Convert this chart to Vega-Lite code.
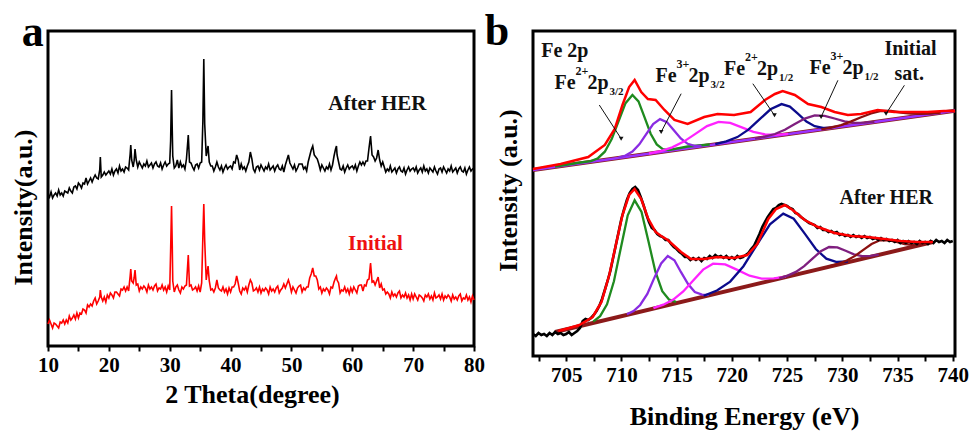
{
  "$schema": "https://vega.github.io/schema/vega-lite/v6.json",
  "padding": {"left": 8, "top": 8, "right": 0, "bottom": 0},
  "spacing": -3,
  "resolve": {"scale": {"color": "independent"}},
  "config": {
    "font": "Liberation Serif",
    "view": {"stroke": "black", "strokeWidth": 3},
    "axis": {"labelFont": "Liberation Serif", "labelFontWeight": "bold", "labelFontSize": 21, "labelColor": "black", "titleFont": "Liberation Serif", "titleFontWeight": "bold", "titleFontSize": 26, "titleColor": "black", "grid": false, "domain": false, "tickColor": "black", "tickWidth": 2, "tickSize": 5, "labelFlush": false, "labelOverlap": false},
    "text": {"font": "Liberation Serif", "fontWeight": "bold"}
  },
  "datasets": {
    "xrd": [
      {"x":10,"a":152,"i":22},{"x":10.25,"a":149,"i":26},{"x":10.5,"a":154,"i":22},{"x":10.75,"a":148,"i":18},
      {"x":11,"a":151,"i":23},{"x":11.25,"a":153,"i":22},{"x":11.5,"a":150,"i":20},{"x":11.75,"a":156,"i":18},
      {"x":12,"a":151,"i":24},{"x":12.25,"a":153,"i":23},{"x":12.5,"a":150,"i":26},{"x":12.75,"a":155,"i":22},
      {"x":13,"a":154,"i":26},{"x":13.25,"a":153,"i":23},{"x":13.5,"a":158,"i":30},{"x":13.75,"a":155,"i":26},
      {"x":14,"a":153,"i":28},{"x":14.25,"a":159,"i":31},{"x":14.5,"a":160,"i":27},{"x":14.75,"a":157,"i":33},
      {"x":15,"a":163,"i":28},{"x":15.25,"a":161,"i":33},{"x":15.5,"a":158,"i":32},{"x":15.75,"a":163,"i":37},
      {"x":16,"a":162,"i":36},{"x":16.25,"a":168,"i":33},{"x":16.5,"a":162,"i":41},{"x":16.75,"a":165,"i":39},
      {"x":17,"a":168,"i":42},{"x":17.25,"a":164,"i":40},{"x":17.5,"a":168,"i":45},{"x":17.75,"a":171,"i":48},
      {"x":18,"a":168,"i":42},{"x":18.25,"a":167,"i":45},{"x":18.5,"a":176,"i":49},{"x":18.6,"a":189,"i":56},{"x":18.75,"a":169,"i":49},
      {"x":19,"a":171,"i":45},{"x":19.25,"a":174,"i":49},{"x":19.5,"a":171,"i":44},{"x":19.75,"a":173,"i":51},
      {"x":20,"a":175,"i":48},{"x":20.25,"a":172,"i":53},{"x":20.5,"a":177,"i":51},{"x":20.75,"a":171,"i":48},
      {"x":21,"a":175,"i":54},{"x":21.25,"a":177,"i":54},{"x":21.5,"a":173,"i":52},{"x":21.75,"a":180,"i":50},
      {"x":22,"a":175,"i":57},{"x":22.25,"a":177,"i":56},{"x":22.5,"a":174,"i":59},{"x":22.75,"a":179,"i":55},
      {"x":23,"a":178,"i":59},{"x":23.25,"a":176,"i":55},{"x":23.5,"a":192,"i":70},{"x":23.6,"a":201,"i":77},{"x":23.75,"a":186,"i":65},
      {"x":24,"a":179,"i":63},{"x":24.15,"a":185,"i":68},{"x":24.3,"a":197,"i":76},{"x":24.5,"a":186,"i":61},{"x":24.75,"a":179,"i":62},
      {"x":25,"a":184,"i":55},{"x":25.25,"a":181,"i":59},{"x":25.5,"a":178,"i":57},{"x":25.75,"a":182,"i":60},
      {"x":26,"a":180,"i":58},{"x":26.25,"a":185,"i":54},{"x":26.5,"a":179,"i":61},{"x":26.75,"a":181,"i":57},
      {"x":27,"a":183,"i":59},{"x":27.25,"a":178,"i":56},{"x":27.5,"a":182,"i":60},{"x":27.75,"a":184,"i":62},
      {"x":28,"a":180,"i":55},{"x":28.25,"a":179,"i":58},{"x":28.5,"a":183,"i":57},{"x":28.75,"a":177,"i":61},
      {"x":29,"a":181,"i":56},{"x":29.25,"a":184,"i":59},{"x":29.5,"a":180,"i":54},{"x":29.75,"a":182,"i":60},
      {"x":30,"a":183,"i":56},{"x":30.15,"a":205,"i":95},{"x":30.3,"a":256,"i":140},{"x":30.42,"a":215,"i":100},{"x":30.5,"a":190,"i":65},{"x":30.75,"a":178,"i":54},
      {"x":31,"a":180,"i":59},{"x":31.25,"a":186,"i":61},{"x":31.5,"a":178,"i":56},{"x":31.75,"a":184,"i":53},
      {"x":32,"a":179,"i":59},{"x":32.25,"a":181,"i":57},{"x":32.5,"a":177,"i":60},{"x":32.75,"a":187,"i":61},
      {"x":33.05,"a":211,"i":91},{"x":33.25,"a":184,"i":60},{"x":33.5,"a":183,"i":61},{"x":33.75,"a":179,"i":56},
      {"x":34,"a":176,"i":57},{"x":34.25,"a":181,"i":59},{"x":34.5,"a":182,"i":55},{"x":34.75,"a":178,"i":60},
      {"x":35,"a":183,"i":54},{"x":35.25,"a":184,"i":63},{"x":35.45,"a":225,"i":110},{"x":35.6,"a":287,"i":142},{"x":35.75,"a":222,"i":105},
      {"x":36,"a":190,"i":66},{"x":36.3,"a":200,"i":80},{"x":36.5,"a":184,"i":65},{"x":36.75,"a":180,"i":56},
      {"x":37,"a":180,"i":57},{"x":37.25,"a":175,"i":54},{"x":37.5,"a":179,"i":58},{"x":37.75,"a":184,"i":66},
      {"x":38,"a":179,"i":58},{"x":38.25,"a":176,"i":56},{"x":38.5,"a":180,"i":55},{"x":38.75,"a":174,"i":59},
      {"x":39,"a":178,"i":54},{"x":39.25,"a":181,"i":57},{"x":39.5,"a":177,"i":52},{"x":39.75,"a":179,"i":58},
      {"x":40,"a":180,"i":54},{"x":40.25,"a":177,"i":59},{"x":40.5,"a":184,"i":59},{"x":40.75,"a":183,"i":62},
      {"x":41,"a":191,"i":70},{"x":41.25,"a":186,"i":63},{"x":41.5,"a":176,"i":55},{"x":41.75,"a":182,"i":52},
      {"x":42,"a":177,"i":58},{"x":42.25,"a":179,"i":56},{"x":42.5,"a":175,"i":59},{"x":42.75,"a":180,"i":54},
      {"x":43,"a":184,"i":61},{"x":43.25,"a":194,"i":66},{"x":43.5,"a":187,"i":63},{"x":43.75,"a":177,"i":55},
      {"x":44,"a":174,"i":56},{"x":44.25,"a":179,"i":58},{"x":44.5,"a":180,"i":54},{"x":44.75,"a":176,"i":59},
      {"x":45,"a":181,"i":53},{"x":45.25,"a":178,"i":57},{"x":45.5,"a":175,"i":55},{"x":45.75,"a":179,"i":58},
      {"x":46,"a":177,"i":56},{"x":46.25,"a":182,"i":52},{"x":46.5,"a":176,"i":59},{"x":46.75,"a":178,"i":55},
      {"x":47,"a":180,"i":57},{"x":47.25,"a":175,"i":54},{"x":47.5,"a":179,"i":58},{"x":47.75,"a":181,"i":60},
      {"x":48,"a":177,"i":53},{"x":48.25,"a":176,"i":56},{"x":48.5,"a":180,"i":58},{"x":48.75,"a":174,"i":62},
      {"x":49,"a":181,"i":58},{"x":49.25,"a":186,"i":62},{"x":49.5,"a":191,"i":66},{"x":49.75,"a":183,"i":61},
      {"x":50,"a":180,"i":54},{"x":50.25,"a":177,"i":59},{"x":50.5,"a":181,"i":56},{"x":50.75,"a":175,"i":53},
      {"x":51,"a":178,"i":58},{"x":51.25,"a":182,"i":60},{"x":51.5,"a":182,"i":61},{"x":51.75,"a":182,"i":54},
      {"x":52,"a":177,"i":58},{"x":52.25,"a":179,"i":56},{"x":52.5,"a":175,"i":59},{"x":52.75,"a":184,"i":59},
      {"x":53,"a":190,"i":68},{"x":53.25,"a":196,"i":72},{"x":53.5,"a":200,"i":78},{"x":53.75,"a":191,"i":70},
      {"x":54,"a":189,"i":70},{"x":54.25,"a":187,"i":66},{"x":54.5,"a":182,"i":57},{"x":54.75,"a":176,"i":59},
      {"x":55,"a":181,"i":53},{"x":55.25,"a":178,"i":57},{"x":55.5,"a":175,"i":55},{"x":55.75,"a":179,"i":58},
      {"x":56,"a":177,"i":56},{"x":56.25,"a":182,"i":52},{"x":56.5,"a":176,"i":59},{"x":56.75,"a":181,"i":58},
      {"x":57,"a":190,"i":64},{"x":57.25,"a":197,"i":68},{"x":57.4,"a":200,"i":70},{"x":57.5,"a":191,"i":66},{"x":57.75,"a":184,"i":63},
      {"x":58,"a":177,"i":53},{"x":58.25,"a":176,"i":56},{"x":58.5,"a":180,"i":55},{"x":58.75,"a":174,"i":59},
      {"x":59,"a":178,"i":54},{"x":59.25,"a":181,"i":57},{"x":59.5,"a":177,"i":52},{"x":59.75,"a":179,"i":58},
      {"x":60,"a":180,"i":54},{"x":60.25,"a":177,"i":59},{"x":60.5,"a":181,"i":56},{"x":60.75,"a":175,"i":53},
      {"x":61,"a":180,"i":60},{"x":61.25,"a":184,"i":61},{"x":61.5,"a":181,"i":61},{"x":61.75,"a":184,"i":55},
      {"x":62,"a":181,"i":61},{"x":62.25,"a":185,"i":60},{"x":62.5,"a":185,"i":66},{"x":62.75,"a":198,"i":67},
      {"x":63,"a":210,"i":83},{"x":63.25,"a":191,"i":64},{"x":63.5,"a":189,"i":65},{"x":63.75,"a":185,"i":61},
      {"x":64,"a":188,"i":65},{"x":64.25,"a":196,"i":69},{"x":64.5,"a":186,"i":58},{"x":64.75,"a":180,"i":62},
      {"x":65,"a":184,"i":56},{"x":65.25,"a":179,"i":57},{"x":65.5,"a":174,"i":52},{"x":65.75,"a":177,"i":54},
      {"x":66,"a":175,"i":52},{"x":66.25,"a":180,"i":48},{"x":66.5,"a":174,"i":54},{"x":66.75,"a":176,"i":50},
      {"x":67,"a":178,"i":52},{"x":67.25,"a":173,"i":49},{"x":67.5,"a":177,"i":53},{"x":67.75,"a":179,"i":55},
      {"x":68,"a":175,"i":48},{"x":68.25,"a":174,"i":51},{"x":68.5,"a":178,"i":49},{"x":68.75,"a":172,"i":53},
      {"x":69,"a":176,"i":48},{"x":69.25,"a":179,"i":51},{"x":69.5,"a":175,"i":46},{"x":69.75,"a":177,"i":52},
      {"x":70,"a":178,"i":47},{"x":70.25,"a":175,"i":52},{"x":70.5,"a":179,"i":49},{"x":70.75,"a":173,"i":46},
      {"x":71,"a":176,"i":51},{"x":71.25,"a":178,"i":50},{"x":71.5,"a":174,"i":48},{"x":71.75,"a":180,"i":45},
      {"x":72,"a":175,"i":51},{"x":72.25,"a":177,"i":49},{"x":72.5,"a":173,"i":52},{"x":72.75,"a":178,"i":47},
      {"x":73,"a":176,"i":50},{"x":73.25,"a":174,"i":46},{"x":73.5,"a":179,"i":53},{"x":73.75,"a":175,"i":48},
      {"x":74,"a":172,"i":49},{"x":74.25,"a":177,"i":51},{"x":74.5,"a":178,"i":47},{"x":74.75,"a":174,"i":52},
      {"x":75,"a":179,"i":46},{"x":75.25,"a":176,"i":50},{"x":75.5,"a":173,"i":48},{"x":75.75,"a":177,"i":51},
      {"x":76,"a":175,"i":49},{"x":76.25,"a":180,"i":45},{"x":76.5,"a":174,"i":51},{"x":76.75,"a":176,"i":47},
      {"x":77,"a":178,"i":49},{"x":77.25,"a":173,"i":46},{"x":77.5,"a":177,"i":50},{"x":77.75,"a":179,"i":52},
      {"x":78,"a":175,"i":45},{"x":78.25,"a":174,"i":48},{"x":78.5,"a":178,"i":47},{"x":78.75,"a":172,"i":51},
      {"x":79,"a":176,"i":46},{"x":79.25,"a":179,"i":49},{"x":79.5,"a":175,"i":44},{"x":79.75,"a":177,"i":50},
      {"x":80,"a":178,"i":46}
    ],
    "xrdText": [
      {"x":56.06,"y":235.7,"t":"After HER"},
      {"x":59.3,"y":95.7,"t":"Initial"}
    ],
    "panelA": [{"x":5.68,"y":299.7,"t":"a"}],
    "panelB": [{"E":697.63,"v":310.7,"t":"b"}],
    "bg": [
      {"s":"init","E":702,"v":186},{"s":"init","E":740.2,"v":245.3},
      {"s":"after","E":704,"v":24},{"s":"after","E":738.2,"v":114}
    ],
    "comp": [
      {"s":"init","c":"g","E":704,"v":189.5},{"s":"init","c":"g","E":706,"v":193},{"s":"init","c":"g","E":707.25,"v":194.9},{"s":"init","c":"g","E":707.875,"v":197.8},{"s":"init","c":"g","E":708.5,"v":204.3},{"s":"init","c":"g","E":709.125,"v":216.9},{"s":"init","c":"g","E":709.75,"v":235},{"s":"init","c":"g","E":710.375,"v":252.8},{"s":"init","c":"g","E":711,"v":261},{"s":"init","c":"g","E":711.55,"v":254.6},{"s":"init","c":"g","E":712.1,"v":238.7},{"s":"init","c":"g","E":712.65,"v":222.3},{"s":"init","c":"g","E":713.2,"v":211.6},{"s":"init","c":"g","E":713.75,"v":206.9},{"s":"init","c":"g","E":714.3,"v":205.8},{"s":"init","c":"g","E":716,"v":209.5},{"s":"init","c":"g","E":718,"v":211.5},
      {"s":"init","c":"v","E":709.75,"v":198.4},{"s":"init","c":"v","E":710.375,"v":200.5},{"s":"init","c":"v","E":711,"v":204.4},{"s":"init","c":"v","E":711.625,"v":211.7},{"s":"init","c":"v","E":712.25,"v":221.9},{"s":"init","c":"v","E":712.875,"v":232},{"s":"init","c":"v","E":713.5,"v":236.9},{"s":"init","c":"v","E":714.125,"v":233.9},{"s":"init","c":"v","E":714.75,"v":225.8},{"s":"init","c":"v","E":715.375,"v":217.5},{"s":"init","c":"v","E":716,"v":212.2},{"s":"init","c":"v","E":716.625,"v":210.2},{"s":"init","c":"v","E":717.25,"v":210},
      {"s":"init","c":"m","E":712.5,"v":202.5},{"s":"init","c":"m","E":713.55,"v":204.9},{"s":"init","c":"m","E":714.6,"v":208.6},{"s":"init","c":"m","E":715.65,"v":214.4},{"s":"init","c":"m","E":716.7,"v":222.1},{"s":"init","c":"m","E":717.75,"v":229.9},{"s":"init","c":"m","E":718.8,"v":234.1},{"s":"init","c":"m","E":719.85,"v":233.1},{"s":"init","c":"m","E":720.9,"v":228.7},{"s":"init","c":"m","E":721.95,"v":224.2},{"s":"init","c":"m","E":723,"v":221.6},{"s":"init","c":"m","E":724.05,"v":221.2},{"s":"init","c":"m","E":725.1,"v":222.1},
      {"s":"init","c":"n","E":718.5,"v":211.9},{"s":"init","c":"n","E":719.5,"v":214.6},{"s":"init","c":"n","E":720.5,"v":218.9},{"s":"init","c":"n","E":721.5,"v":226.4},{"s":"init","c":"n","E":722.5,"v":236.6},{"s":"init","c":"n","E":723.5,"v":246.7},{"s":"init","c":"n","E":724.5,"v":251.9},{"s":"init","c":"n","E":725.25,"v":249.4},{"s":"init","c":"n","E":726,"v":242.1},{"s":"init","c":"n","E":726.75,"v":234.5},{"s":"init","c":"n","E":727.5,"v":229.8},{"s":"init","c":"n","E":728.25,"v":228.2},{"s":"init","c":"n","E":729,"v":228.2},
      {"s":"init","c":"p","E":722.1,"v":217.4},{"s":"init","c":"p","E":723,"v":219.3},{"s":"init","c":"p","E":723.9,"v":222},{"s":"init","c":"p","E":724.8,"v":226.3},{"s":"init","c":"p","E":725.7,"v":231.9},{"s":"init","c":"p","E":726.6,"v":237.4},{"s":"init","c":"p","E":727.5,"v":240.6},{"s":"init","c":"p","E":728.4,"v":240.2},{"s":"init","c":"p","E":729.3,"v":237.5},{"s":"init","c":"p","E":730.2,"v":234.7},{"s":"init","c":"p","E":731.1,"v":233.2},{"s":"init","c":"p","E":732,"v":233.3},{"s":"init","c":"p","E":732.9,"v":234.2},
      {"s":"init","c":"s","E":728.1,"v":226.6},{"s":"init","c":"s","E":729,"v":228.4},{"s":"init","c":"s","E":729.9,"v":230.9},{"s":"init","c":"s","E":730.8,"v":234.6},{"s":"init","c":"s","E":731.7,"v":238.8},{"s":"init","c":"s","E":732.6,"v":242.5},{"s":"init","c":"s","E":733.5,"v":245},{"s":"init","c":"s","E":734.4,"v":245},{"s":"init","c":"s","E":735.3,"v":243.5},{"s":"init","c":"s","E":736.2,"v":242.5},{"s":"init","c":"s","E":737.1,"v":242.1},{"s":"init","c":"s","E":738,"v":242.4},{"s":"init","c":"s","E":738.9,"v":243.4},
      {"s":"after","c":"g","E":707.45,"v":34.4},{"s":"after","c":"g","E":708.075,"v":39.8},{"s":"after","c":"g","E":708.7,"v":51.7},{"s":"after","c":"g","E":709.325,"v":74.7},{"s":"after","c":"g","E":709.95,"v":108.1},{"s":"after","c":"g","E":710.575,"v":140.7},{"s":"after","c":"g","E":711.2,"v":155.7},{"s":"after","c":"g","E":711.825,"v":144},{"s":"after","c":"g","E":712.45,"v":114.7},{"s":"after","c":"g","E":713.075,"v":84.6},{"s":"after","c":"g","E":713.7,"v":64.8},{"s":"after","c":"g","E":714.325,"v":56.3},{"s":"after","c":"g","E":714.95,"v":54.1},
      {"s":"after","c":"v","E":710.5,"v":41.7},{"s":"after","c":"v","E":711.1,"v":45},{"s":"after","c":"v","E":711.7,"v":51},{"s":"after","c":"v","E":712.35,"v":62},{"s":"after","c":"v","E":712.95,"v":77.4},{"s":"after","c":"v","E":713.6,"v":92.6},{"s":"after","c":"v","E":714.2,"v":100},{"s":"after","c":"v","E":714.8,"v":95.7},{"s":"after","c":"v","E":715.4,"v":83.8},{"s":"after","c":"v","E":716.05,"v":71.7},{"s":"after","c":"v","E":716.65,"v":64},{"s":"after","c":"v","E":717.3,"v":61.3},{"s":"after","c":"v","E":717.9,"v":61.2},
      {"s":"after","c":"m","E":712.9,"v":47.8},{"s":"after","c":"m","E":713.8,"v":51.3},{"s":"after","c":"m","E":714.7,"v":56.4},{"s":"after","c":"m","E":715.6,"v":64.5},{"s":"after","c":"m","E":716.5,"v":75.6},{"s":"after","c":"m","E":717.4,"v":86.4},{"s":"after","c":"m","E":718.3,"v":92.3},{"s":"after","c":"m","E":719.4,"v":91.6},{"s":"after","c":"m","E":720.5,"v":86.1},{"s":"after","c":"m","E":721.6,"v":80.3},{"s":"after","c":"m","E":722.7,"v":77.4},{"s":"after","c":"m","E":723.8,"v":77.6},{"s":"after","c":"m","E":724.9,"v":79.4},
      {"s":"after","c":"n","E":717.45,"v":60.2},{"s":"after","c":"n","E":718.65,"v":65.5},{"s":"after","c":"n","E":719.85,"v":74.4},{"s":"after","c":"n","E":721.05,"v":89.8},{"s":"after","c":"n","E":722.25,"v":110.9},{"s":"after","c":"n","E":723.45,"v":131.7},{"s":"after","c":"n","E":724.65,"v":142.4},{"s":"after","c":"n","E":725.6,"v":137.3},{"s":"after","c":"n","E":726.6,"v":122.4},{"s":"after","c":"n","E":727.6,"v":107},{"s":"after","c":"n","E":728.55,"v":97.3},{"s":"after","c":"n","E":729.5,"v":94},{"s":"after","c":"n","E":730.5,"v":94.5},
      {"s":"after","c":"p","E":724.3,"v":77.7},{"s":"after","c":"p","E":725.05,"v":80.4},{"s":"after","c":"p","E":725.8,"v":84.1},{"s":"after","c":"p","E":726.55,"v":89.8},{"s":"after","c":"p","E":727.3,"v":97.3},{"s":"after","c":"p","E":728.05,"v":104.7},{"s":"after","c":"p","E":728.8,"v":109},{"s":"after","c":"p","E":729.55,"v":108.6},{"s":"after","c":"p","E":730.3,"v":105.2},{"s":"after","c":"p","E":731.05,"v":101.7},{"s":"after","c":"p","E":731.8,"v":99.8},{"s":"after","c":"p","E":732.55,"v":100.1},{"s":"after","c":"p","E":733.3,"v":101.4},
      {"s":"after","c":"s","E":728.9,"v":89.8},{"s":"after","c":"s","E":729.65,"v":92.2},{"s":"after","c":"s","E":730.4,"v":95.5},{"s":"after","c":"s","E":731.15,"v":100.1},{"s":"after","c":"s","E":731.9,"v":106.1},{"s":"after","c":"s","E":732.65,"v":112},{"s":"after","c":"s","E":733.4,"v":115.7},{"s":"after","c":"s","E":734.15,"v":115.9},{"s":"after","c":"s","E":734.9,"v":114},{"s":"after","c":"s","E":735.65,"v":112},{"s":"after","c":"s","E":736.4,"v":111.2},{"s":"after","c":"s","E":737.15,"v":111.9},{"s":"after","c":"s","E":737.9,"v":113.5}
    ],
    "raw": [
      {"E":702,"v":22},{"E":702.25,"v":20},{"E":702.5,"v":23},{"E":702.75,"v":21},{"E":703,"v":22},{"E":703.25,"v":20},{"E":703.5,"v":23},{"E":703.75,"v":21},
      {"E":704,"v":24},{"E":704.25,"v":22},{"E":704.5,"v":23},{"E":704.75,"v":21},{"E":705,"v":22},{"E":705.25,"v":24},{"E":705.5,"v":21},{"E":705.75,"v":23},
      {"E":706,"v":25},{"E":706.25,"v":28},{"E":706.5,"v":35},{"E":706.75,"v":37},{"E":707,"v":36},{"E":707.25,"v":38},{"E":707.5,"v":41},{"E":707.75,"v":45},
      {"E":708,"v":50},{"E":708.25,"v":57},{"E":708.5,"v":66},{"E":708.75,"v":75},{"E":709,"v":85},{"E":709.25,"v":98},{"E":709.5,"v":111},{"E":709.75,"v":124},
      {"E":710,"v":137},{"E":710.25,"v":147},{"E":710.5,"v":156},{"E":710.75,"v":163},{"E":711,"v":167},{"E":711.25,"v":169},{"E":711.5,"v":166},{"E":711.75,"v":159},
      {"E":712,"v":151},{"E":712.25,"v":142},{"E":712.5,"v":134},{"E":712.75,"v":128},{"E":713,"v":126},{"E":713.25,"v":122},{"E":713.5,"v":120},{"E":713.75,"v":119},
      {"E":714,"v":116},{"E":714.25,"v":116},{"E":714.5,"v":112},{"E":714.75,"v":109},{"E":715,"v":107},{"E":715.25,"v":104},{"E":715.5,"v":102},{"E":715.75,"v":99},
      {"E":716,"v":99},{"E":716.25,"v":96},{"E":716.5,"v":98},{"E":716.75,"v":96},{"E":717,"v":98},{"E":717.25,"v":95},{"E":717.5,"v":98},{"E":717.75,"v":97},
      {"E":718,"v":100},{"E":718.25,"v":98},{"E":718.5,"v":101},{"E":718.75,"v":99},{"E":719,"v":100},{"E":719.25,"v":98},{"E":719.5,"v":100},{"E":719.75,"v":97},
      {"E":720,"v":99},{"E":720.25,"v":97},{"E":720.5,"v":100},{"E":720.75,"v":98},{"E":721,"v":99},{"E":721.25,"v":101},{"E":721.5,"v":103},{"E":721.75,"v":107},
      {"E":722,"v":110},{"E":722.25,"v":116},{"E":722.5,"v":122},{"E":722.75,"v":129},{"E":723,"v":134},{"E":723.25,"v":139},{"E":723.5,"v":143},{"E":723.75,"v":147},
      {"E":724,"v":148},{"E":724.25,"v":151},{"E":724.5,"v":152},{"E":724.75,"v":151},{"E":725,"v":150},{"E":725.25,"v":148},{"E":725.5,"v":147},{"E":725.75,"v":143},
      {"E":726,"v":142},{"E":726.25,"v":139},{"E":726.5,"v":137},{"E":726.75,"v":135},{"E":727,"v":133},{"E":727.25,"v":132},{"E":727.5,"v":131},{"E":727.75,"v":128},
      {"E":728,"v":129},{"E":728.25,"v":126},{"E":728.5,"v":126},{"E":728.75,"v":124},{"E":729,"v":125},{"E":729.25,"v":123},{"E":729.5,"v":124},{"E":729.75,"v":121},
      {"E":730,"v":122},{"E":730.25,"v":120},{"E":730.5,"v":121},{"E":730.75,"v":119},{"E":731,"v":121},{"E":731.25,"v":119},{"E":731.5,"v":120},{"E":731.75,"v":118},
      {"E":732,"v":120},{"E":732.25,"v":118},{"E":732.5,"v":119},{"E":732.75,"v":117},{"E":733,"v":118},{"E":733.25,"v":116},{"E":733.5,"v":118},{"E":733.75,"v":116},
      {"E":734,"v":117},{"E":734.25,"v":115},{"E":734.5,"v":116},{"E":734.75,"v":114},{"E":735,"v":116},{"E":735.25,"v":113},{"E":735.5,"v":115},{"E":735.75,"v":113},
      {"E":736,"v":115},{"E":736.25,"v":113},{"E":736.5,"v":114},{"E":736.75,"v":112},{"E":737,"v":115},{"E":737.25,"v":113},{"E":737.5,"v":114},{"E":737.75,"v":112},
      {"E":738,"v":115},{"E":738.25,"v":113},{"E":738.5,"v":116},{"E":738.75,"v":114},{"E":739,"v":115},{"E":739.25,"v":113},{"E":739.5,"v":116},{"E":739.75,"v":114},{"E":740,"v":115}
    ],
    "env": [
      {"s":"init","E":702,"v":187},{"s":"init","E":704.5,"v":192},{"s":"init","E":707,"v":199},{"s":"init","E":708.5,"v":211},{"s":"init","E":709.4,"v":227},{"s":"init","E":710.1,"v":251},{"s":"init","E":710.7,"v":269},{"s":"init","E":711.2,"v":276},{"s":"init","E":711.8,"v":264},{"s":"init","E":712.4,"v":257},{"s":"init","E":713.1,"v":256},{"s":"init","E":713.9,"v":246},{"s":"init","E":714.8,"v":236},{"s":"init","E":716,"v":232},{"s":"init","E":717.5,"v":239},{"s":"init","E":718.7,"v":242},{"s":"init","E":720.2,"v":241},{"s":"init","E":721.7,"v":244},{"s":"init","E":723,"v":256},{"s":"init","E":723.9,"v":262},{"s":"init","E":724.6,"v":265},{"s":"init","E":725.7,"v":261},{"s":"init","E":726.9,"v":252},{"s":"init","E":728.1,"v":249},{"s":"init","E":729.3,"v":244},{"s":"init","E":730.5,"v":241},{"s":"init","E":731.7,"v":242},{"s":"init","E":733.2,"v":246},{"s":"init","E":734.7,"v":244},{"s":"init","E":736.2,"v":244},{"s":"init","E":737.7,"v":244},{"s":"init","E":739.2,"v":245},{"s":"init","E":740.2,"v":245},
      {"s":"after","E":704.3,"v":25},{"s":"after","E":705.3,"v":28},{"s":"after","E":706.2,"v":31},{"s":"after","E":707.4,"v":39},{"s":"after","E":708.2,"v":54},{"s":"after","E":708.9,"v":81},{"s":"after","E":709.5,"v":111},{"s":"after","E":710.1,"v":141},{"s":"after","E":710.7,"v":161},{"s":"after","E":711.2,"v":167},{"s":"after","E":711.8,"v":157},{"s":"after","E":712.4,"v":138},{"s":"after","E":713.1,"v":124},{"s":"after","E":713.6,"v":120},{"s":"after","E":714.2,"v":116},{"s":"after","E":715.4,"v":104},{"s":"after","E":716.3,"v":97},{"s":"after","E":717.5,"v":97},{"s":"after","E":718.7,"v":99},{"s":"after","E":720.2,"v":98},{"s":"after","E":721.4,"v":101},{"s":"after","E":722.3,"v":112},{"s":"after","E":723.3,"v":137},{"s":"after","E":724,"v":147},{"s":"after","E":724.8,"v":151},{"s":"after","E":725.5,"v":146},{"s":"after","E":726.6,"v":136},{"s":"after","E":727.8,"v":129},{"s":"after","E":729.3,"v":123},{"s":"after","E":730.8,"v":120},{"s":"after","E":732.3,"v":119},{"s":"after","E":733.8,"v":117},{"s":"after","E":735.3,"v":115},{"s":"after","E":736.8,"v":114},{"s":"after","E":738.2,"v":114}
    ],
    "arrows": [
      {"E":708.0,"v":251,"E2":709.98,"v2":217.3},
      {"E":715.41,"v":262.3,"E2":713.6,"v2":224},
      {"E":721.9,"v":272.3,"E2":723.86,"v2":240.7},
      {"E":729.6,"v":275.7,"E2":728.08,"v2":239},
      {"E":735.62,"v":270.7,"E2":733.96,"v2":242.3}
    ],
    "felab": [
      {"E":703.95,"v":267,"ion":"2+","orb":"3/2"},
      {"E":713.1,"v":274,"ion":"3+","orb":"3/2"},
      {"E":719.3,"v":281.3,"ion":"2+","orb":"1/2"},
      {"E":727.03,"v":282,"ion":"3+","orb":"1/2"}
    ],
    "btext": [
      {"E":702.74,"v":299,"t":"Fe 2p"},
      {"E":733.81,"v":300.7,"t":"Initial"},
      {"E":734.72,"v":275.7,"t":"sat."},
      {"E":729.74,"v":152.3,"t":"After HER"}
    ]
  },
  "hconcat": [
    {
      "width": 426,
      "height": 315,
      "encoding": {
        "x": {"field": "x", "type": "quantitative", "scale": {"domain": [10, 80], "nice": false, "zero": false},
              "axis": {"title": "2 Theta(degree)", "values": [10,15,20,25,30,35,40,45,50,55,60,65,70,75,80], "labelExpr": "datum.value % 10 === 0 ? datum.label : ''", "labelPadding": 3, "titlePadding": 6, "titleX": 204}},
        "y": {"field": "y", "type": "quantitative", "scale": {"domain": [0, 315], "nice": false, "zero": false},
              "axis": {"title": "Intensity(a.u.)", "labels": false, "ticks": false, "titlePadding": 12, "titleY": 176}}
      },
      "layer": [
        {
          "data": {"name": "xrd"},
          "transform": [{"fold": ["a", "i"], "as": ["series", "y"]}],
          "mark": {"type": "line", "strokeWidth": 1.6},
          "encoding": {"color": {"field": "series", "type": "nominal", "scale": {"domain": ["a", "i"], "range": ["#000000", "#ff0000"]}, "legend": null}}
        },
        {
          "data": {"name": "xrdText"},
          "transform": [{"filter": "datum.t == 'After HER'"}],
          "mark": {"type": "text", "align": "left", "baseline": "alphabetic", "fontSize": 21, "fontWeight": "bold", "color": "#111111"},
          "encoding": {"text": {"field": "t"}}
        },
        {
          "data": {"name": "xrdText"},
          "transform": [{"filter": "datum.t == 'Initial'"}],
          "mark": {"type": "text", "align": "left", "baseline": "alphabetic", "fontSize": 21, "fontWeight": "bold", "color": "#ee1111"},
          "encoding": {"text": {"field": "t"}}
        },
        {
          "data": {"name": "panelA"},
          "mark": {"type": "text", "align": "left", "baseline": "alphabetic", "fontSize": 44, "fontWeight": "bold", "color": "black"},
          "encoding": {"text": {"field": "t"}}
        }
      ]
    },
    {
      "width": 422,
      "height": 325,
      "encoding": {
        "x": {"field": "E", "type": "quantitative", "scale": {"domain": [702, 740.2], "nice": false, "zero": false},
              "axis": {"title": "Binding Energy (eV)", "values": [702.5,705,707.5,710,712.5,715,717.5,720,722.5,725,727.5,730,732.5,735,737.5,740], "labelExpr": "datum.value % 5 === 0 ? datum.label : ''", "labelPadding": 3, "titlePadding": 18}},
        "y": {"field": "v", "type": "quantitative", "scale": {"domain": [0, 325], "nice": false, "zero": false},
              "axis": {"title": "Intensity (a.u.)", "labels": false, "ticks": false, "titlePadding": 12, "titleY": 159}}
      },
      "layer": [
        {
          "data": {"name": "bg"},
          "mark": {"type": "line", "color": "#8b1a1a", "strokeWidth": 4},
          "encoding": {"detail": {"field": "s"}}
        },
        {
          "data": {"name": "bg"},
          "transform": [{"filter": "datum.s == 'init'"}],
          "mark": {"type": "line", "color": "#9a32ff", "strokeWidth": 2.5},
          "encoding": {}
        },
        {
          "data": {"name": "comp"},
          "mark": {"type": "line", "strokeWidth": 2.3},
          "encoding": {
            "color": {"field": "c", "type": "nominal", "scale": {"domain": ["g", "v", "m", "n", "p", "s"], "range": ["#1f8b1f", "#8a2be2", "#ff22ff", "#0b0b8c", "#7f1f7f", "#8b1010"]}, "legend": null},
            "detail": {"field": "s"}
          }
        },
        {
          "data": {"name": "raw"},
          "mark": {"type": "line", "color": "#000000", "strokeWidth": 2.6},
          "encoding": {}
        },
        {
          "data": {"name": "env"},
          "mark": {"type": "line", "color": "#ff0000", "strokeWidth": 2.5},
          "encoding": {"detail": {"field": "s"}}
        },
        {
          "data": {"name": "arrows"},
          "mark": {"type": "rule", "color": "#111111", "strokeWidth": 1},
          "encoding": {"x2": {"field": "E2"}, "y2": {"field": "v2"}}
        },
        {
          "data": {"name": "arrows"},
          "mark": {"type": "point", "shape": "triangle-down", "filled": true, "color": "#111111", "size": 22, "opacity": 1},
          "encoding": {"x": {"field": "E2", "type": "quantitative"}, "y": {"field": "v2", "type": "quantitative"}}
        },
        {
          "data": {"name": "felab"},
          "mark": {"type": "text", "text": "Fe", "align": "left", "baseline": "alphabetic", "fontSize": 20, "fontWeight": "bold", "color": "#111111"},
          "encoding": {}
        },
        {
          "data": {"name": "felab"},
          "mark": {"type": "text", "align": "left", "baseline": "alphabetic", "fontSize": 12, "fontWeight": "bold", "color": "#111111", "dx": 21, "dy": -14},
          "encoding": {"text": {"field": "ion"}}
        },
        {
          "data": {"name": "felab"},
          "mark": {"type": "text", "text": "2p", "align": "left", "baseline": "alphabetic", "fontSize": 20, "fontWeight": "bold", "color": "#111111", "dx": 33},
          "encoding": {}
        },
        {
          "data": {"name": "felab"},
          "mark": {"type": "text", "align": "left", "baseline": "alphabetic", "fontSize": 11, "fontWeight": "bold", "color": "#111111", "dx": 55, "dy": 6},
          "encoding": {"text": {"field": "orb"}}
        },
        {
          "data": {"name": "btext"},
          "mark": {"type": "text", "align": "left", "baseline": "alphabetic", "fontSize": 20, "fontWeight": "bold", "color": "#111111"},
          "encoding": {"text": {"field": "t"}}
        },
        {
          "data": {"name": "panelB"},
          "mark": {"type": "text", "align": "left", "baseline": "alphabetic", "fontSize": 44, "fontWeight": "bold", "color": "black"},
          "encoding": {"text": {"field": "t"}}
        }
      ]
    }
  ]
}
